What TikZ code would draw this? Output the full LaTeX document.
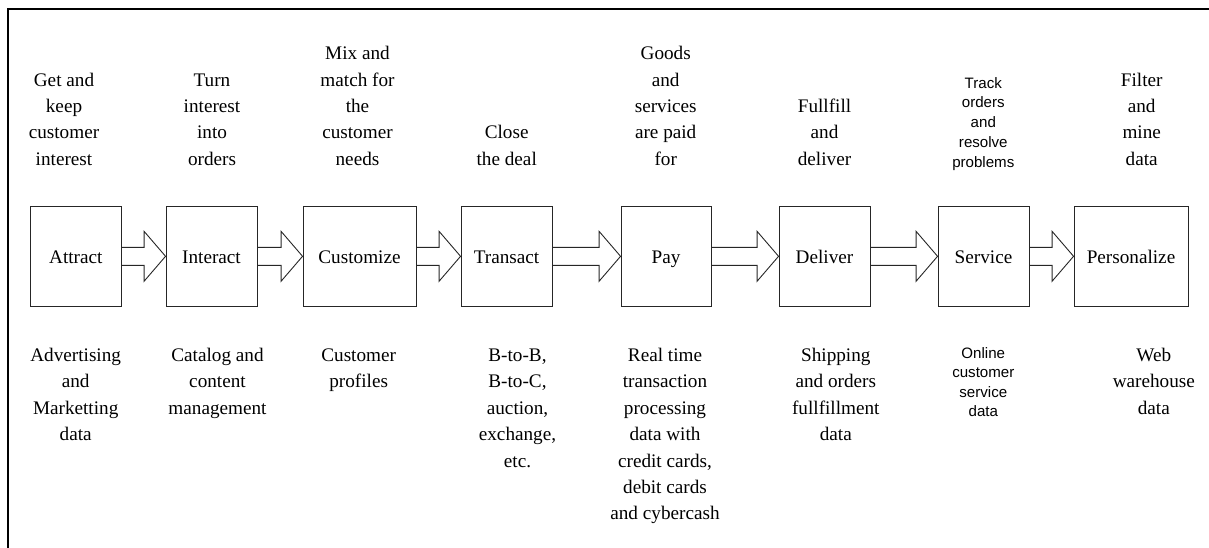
\documentclass[tikz,border=0pt]{standalone}
\usepackage{fontspec}
\setmainfont{Liberation Serif}
\setsansfont{Liberation Sans}
\usetikzlibrary{calc}
\tikzset{
  stagebox/.style={draw=black!85, line width=0.9pt, inner sep=0pt, minimum height=99.3pt,
     text height=13.5pt, text depth=0pt, font=\fontsize{19.2}{26.4}\selectfont},
  toplabel/.style={anchor=south, align=center, inner sep=0pt, font=\fontsize{19.2}{26.4}\selectfont},
  botlabel/.style={anchor=north, align=center, inner sep=0pt, font=\fontsize{19.2}{26.4}\selectfont},
  topsans/.style={anchor=south, align=center, inner sep=0pt, font=\sffamily\fontsize{15.1}{19.9}\selectfont},
  botsans/.style={anchor=north, align=center, inner sep=0pt, font=\sffamily\fontsize{15.1}{19.4}\selectfont},
  blockarrow/.style={draw=black!85, line width=0.9pt, line join=miter},
  framelines/.style={draw=black, line width=2pt}
}
\newcommand{\flowarrow}[2]{%
  \draw[blockarrow] let \p1=(#1.east), \p2=(#2.west) in
    (\x1,\y1+9pt) -- (\x2-21.5pt,\y1+9pt) -- (\x2-21.5pt,\y1+25pt) -- (\x2,\y1)
    -- (\x2-21.5pt,\y1-25pt) -- (\x2-21.5pt,\y1-9pt) -- (\x1,\y1-9pt);}
\begin{document}
\begin{tikzpicture}[x=1pt,y=-1pt]
\useasboundingbox (0,0) rectangle (1209,548);
% frame (left and top edges)
\coordinate (fbl) at (7.7,548);
\coordinate (ftl) at (7.7,9.3);
\coordinate (ftr) at (1209,9.3);
\draw[framelines] (fbl) -- (ftl) -- (ftr);

% stage boxes
\node[stagebox, minimum width=90.3pt] (attract) at (75.85,256.3) {Attract};
\node[stagebox, minimum width=91pt]   (interact) at (211.5,256.3) {Interact};
\node[stagebox, minimum width=113pt]  (customize) at (359.5,256.3) {Customize};
\node[stagebox, minimum width=91pt]   (transact) at (506.5,256.3) {Transact};
\node[stagebox, minimum width=90pt]   (pay) at (666,256.3) {Pay};
\node[stagebox, minimum width=91pt]   (deliver) at (824.5,256.3) {Deliver};
\node[stagebox, minimum width=91pt]   (service) at (983.5,256.3) {Service};
\node[stagebox, minimum width=114pt]  (personalize) at (1131,256.3) {Personalize};

% block arrows
\flowarrow{attract}{interact}
\flowarrow{interact}{customize}
\flowarrow{customize}{transact}
\flowarrow{transact}{pay}
\flowarrow{pay}{deliver}
\flowarrow{deliver}{service}
\flowarrow{service}{personalize}

% top labels
\node[toplabel] (t1) at (64,173.4) {Get and\\keep\\customer\\interest\strut};
\node[toplabel] (t2) at (212,173.4) {Turn\\interest\\into\\orders\strut};
\node[toplabel] (t3) at (357.5,173.4) {Mix and\\match for\\the\\customer\\needs\strut};
\node[toplabel] (t4) at (506.7,173.4) {Close\\the deal\strut};
\node[toplabel] (t5) at (665.7,173.4) {Goods\\and\\services\\are paid\\for\strut};
\node[toplabel] (t6) at (824.5,173.4) {Fullfill\\and\\deliver\strut};
\node[topsans]  (t7) at (983.3,173.8) {Track\\orders\\and\\resolve\\problems\strut};
\node[toplabel] (t8) at (1141.7,173.4) {Filter\\and\\mine\\data\strut};

% bottom labels
\node[botlabel] (b1) at (75.7,342.9) {\strut Advertising\\and\\Marketting\\data};
\node[botlabel] (b2) at (217.5,342.9) {\strut Catalog and\\content\\management};
\node[botlabel] (b3) at (358.7,342.9) {\strut Customer\\profiles};
\node[botlabel] (b4) at (517.5,342.9) {\strut B-to-B,\\B-to-C,\\auction,\\exchange,\\etc.};
\node[botlabel] (b5) at (665,342.9) {\strut Real time\\transaction\\processing\\data with\\credit cards,\\debit cards\\and cybercash};
\node[botlabel] (b6) at (835.8,342.9) {\strut Shipping\\and orders\\fullfillment\\data};
\node[botsans]  (b7) at (983.3,344.5) {\strut Online\\customer\\service\\data};
\node[botlabel] (b8) at (1153.8,342.9) {\strut Web\\warehouse\\data};
\end{tikzpicture}
\end{document}
